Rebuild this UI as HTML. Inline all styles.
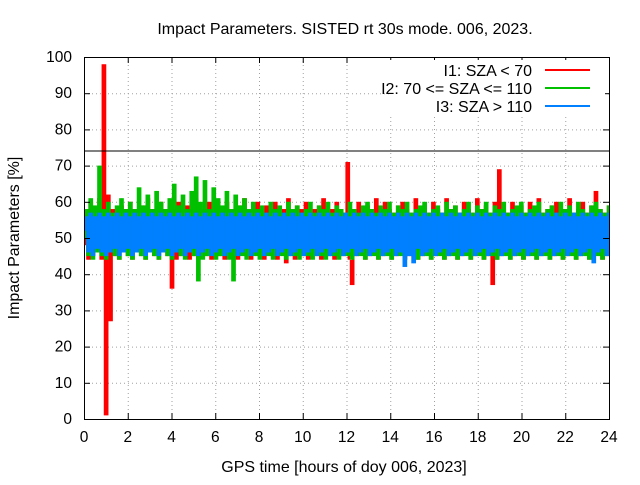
<!DOCTYPE html>
<html><head><meta charset="utf-8"><style>
body{margin:0;background:#fff}
svg text{font-family:"Liberation Sans",sans-serif;font-size:16px;fill:#000}
svg text.tk{font-size:15.5px}
</style></head><body>
<svg width="640" height="480">
<rect width="640" height="480" fill="#fff"/>
<g id="grid"></g>
<g id="series"></g>
<line x1="84" x2="609" y1="151" y2="151" stroke="#000" stroke-width="1"/>
<rect x="84.5" y="57.5" width="525" height="362" fill="none" stroke="#000"/>
<g id="axes"></g>
<text x="345" y="34" text-anchor="middle">Impact Parameters. SISTED rt 30s mode. 006, 2023.</text>
<text x="344" y="472" text-anchor="middle">GPS time [hours of doy 006, 2023]</text>
<text transform="translate(19,238) rotate(-90)" text-anchor="middle">Impact Parameters [%]</text>
<g>
<rect x="390" y="60" width="215" height="55" fill="#fff"/>
<text x="532" y="76" text-anchor="end">I1: SZA &lt; 70</text>
<line x1="545" x2="590" y1="70" y2="70" stroke="#ff0000" stroke-width="2"/>
<text x="532" y="94" text-anchor="end">I2: 70 &lt;= SZA &lt;= 110</text>
<line x1="545" x2="590" y1="88" y2="88" stroke="#00c000" stroke-width="2"/>
<text x="532" y="112" text-anchor="end">I3: SZA &gt; 110</text>
<line x1="545" x2="590" y1="106" y2="106" stroke="#0080ff" stroke-width="2"/>
</g>
</svg>
<script>
const xTicks=[0,2,4,6,8,10,12,14,16,18,20,22,24];
const yTicks=[0,10,20,30,40,50,60,70,80,90,100];
const red=[48,57,44,60,45,58,46,61,44,98,1,62,27,58,45,57,44,59,46,58,
45,60,44,58,46,57,45,59,44,61,46,58,45,57,44,60,46,58,45,59,
36,58,44,60,45,57,46,59,44,58,45,61,44,57,46,58,45,60,44,57,
46,59,45,58,44,60,46,57,45,58,44,59,46,61,45,57,44,58,46,60,
45,57,44,59,46,58,45,60,44,57,46,58,43,61,45,57,44,59,46,58,
45,60,44,57,46,58,45,59,44,61,46,57,45,58,44,60,46,58,45,57,
71,44,37,58,45,60,46,57,44,59,45,58,46,61,44,57,45,60,46,58,
44,57,45,59,46,60,44,58,45,57,46,61,44,58,45,59,46,57,44,60,
45,58,46,57,44,61,45,58,46,59,44,57,45,60,46,58,44,57,45,61,
46,58,44,59,45,57,37,60,44,69,45,58,46,57,44,60,45,58,46,59,
44,57,45,60,46,58,44,61,45,57,46,58,44,59,45,60,46,57,44,58,
45,61,46,57,44,58,45,60,46,57,44,59,45,63,46,58,44,57,45,59];
const green=[50,58,45,61,44,59,46,70,45,58,44,60,46,57,45,59,44,61,46,58,
45,60,44,58,46,64,45,59,44,62,46,58,45,63,44,60,46,58,45,61,
44,65,46,59,45,62,44,58,46,63,45,67,38,60,44,66,45,58,46,64,
44,61,45,59,46,63,44,58,38,62,46,59,45,61,44,58,46,60,45,58,
44,59,46,57,45,60,44,58,46,59,45,57,44,60,46,58,45,59,44,57,
46,58,45,60,44,57,46,59,45,58,44,60,46,57,45,59,44,58,46,57,
45,60,44,58,46,57,45,59,44,60,46,58,45,57,44,59,46,58,45,60,
44,57,46,59,45,58,44,60,46,57,45,58,44,59,46,60,45,57,44,58,
46,59,45,57,44,60,46,58,45,59,44,57,46,58,45,60,44,57,46,59,
45,58,44,60,46,57,45,59,44,58,46,60,45,57,44,58,46,59,45,60,
44,57,46,58,45,59,44,60,46,57,45,58,44,59,46,57,45,60,44,58,
46,59,45,57,44,60,46,58,45,57,44,59,46,60,45,58,44,57,46,59];
const blue=[52,56,46,57,45,56,47,57,46,56,45,57,46,56,47,57,45,56,46,57,
47,56,45,57,46,56,47,57,45,56,46,57,47,56,45,57,46,56,47,57,
45,56,46,57,47,56,45,57,46,56,47,57,45,56,46,57,47,56,45,57,
46,56,47,57,45,56,46,57,47,56,45,57,46,56,47,57,45,56,46,57,
47,56,45,57,46,56,47,57,45,56,46,57,47,56,45,57,46,56,47,57,
45,56,46,57,47,56,45,57,46,56,47,57,45,56,46,57,47,56,45,57,
46,56,47,57,45,56,46,57,47,56,45,57,46,56,47,57,45,56,46,57,
47,56,45,57,46,56,42,57,45,56,43,57,47,56,45,57,46,56,47,57,
45,56,46,57,47,56,45,57,46,56,47,57,45,56,46,57,47,56,45,57,
46,56,47,57,45,56,46,57,47,56,45,57,46,56,47,57,45,56,46,57,
47,56,45,57,46,56,47,57,45,56,46,57,47,56,45,57,46,56,47,57,
45,56,46,57,47,56,45,57,46,56,47,57,43,56,46,57,47,56,45,57];
const X0=84,X1=609,Y0=419,Y1=57;
const xs=t=>X0+(t/24)*(X1-X0);
const ys=v=>Y0-(v/100)*(Y0-Y1);
const NS="http://www.w3.org/2000/svg";
const grid=document.getElementById('grid'),axes=document.getElementById('axes'),ser=document.getElementById('series');
function mk(tag,p,attrs){const e=document.createElementNS(NS,tag);for(const k in attrs)e.setAttribute(k,attrs[k]);p.appendChild(e);return e;}
xTicks.forEach(t=>{const x=xs(t)+0.5;
 if(t>0&&t<24){const g=mk('line',grid,{x1:x,x2:x,y1:Y1,y2:Y0,stroke:'#a0a0a0','stroke-dasharray':'1,3'});
 
 }
 const a=mk('line',axes,{x1:x,x2:x,y1:Y0,y2:Y0-6,stroke:'#000'});
 
 
 const b=mk('line',axes,{x1:x,x2:x,y1:Y1,y2:Y1+6,stroke:'#000'});
 
 
 const l=mk('text',axes,{x:xs(t),y:442,'text-anchor':'middle','class':'tk'});l.textContent=t;
 
 });
yTicks.forEach(v=>{const y=ys(v)+0.5;
 if(v>0&&v<100){const g=mk('line',grid,{x1:X0,x2:X1,y1:y,y2:y,stroke:'#a0a0a0','stroke-dasharray':'1,3'});
 
 }
 const a=mk('line',axes,{x1:X0,x2:X0+6,y1:y,y2:y,stroke:'#000'});
 
 
 const b=mk('line',axes,{x1:X1-6,x2:X1,y1:y,y2:y,stroke:'#000'});
 
 
 const l=mk('text',axes,{x:72,y:ys(v)+5,'text-anchor':'end','class':'tk'});l.textContent=v;
 
 });
function draw(arr,col,name){const n=arr.length;const step=(X1-X0)/(n-1);
 const g=mk('g',ser,{fill:col});
 
 
 for(let i=0;i<n-1;i++){const a=arr[i],b=arr[i+1];
  const x=xs(i*24/(n-1));const top=ys(Math.max(a,b)),bot=ys(Math.min(a,b));
  const r=mk('rect',g,{x:x.toFixed(2),y:top.toFixed(2),width:(step+0.3).toFixed(2),height:(bot-top).toFixed(2)});
  
  }
}
draw(red,'#ff0000','series-i1');
draw(green,'#00c000','series-i2');
draw(blue,'#0080ff','series-i3');
</script>
</body></html>
